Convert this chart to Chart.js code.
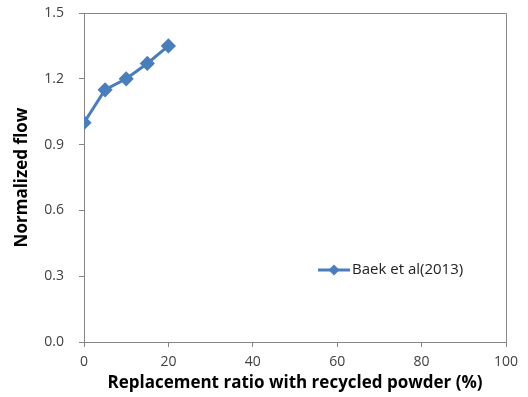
<!DOCTYPE html>
<html>
<head>
<meta charset="utf-8">
<script src="https://cdn.jsdelivr.net/npm/chart.js@4.4.1/dist/chart.umd.min.js"></script>
<style>
  html, body { margin: 0; padding: 0; background: #fff; }
  #wrap { width: 528px; height: 397px; }
</style>
</head>
<body>
<div id="wrap"><canvas id="flowChart" width="528" height="397"></canvas></div>
<script>
// Données : taux de remplacement (%) et fluidité normalisée
const replacementRatio = [0, 5, 10, 15, 20];
const normalizedFlow = [1.0, 1.15, 1.2, 1.27, 1.35];
const seriesLabel = 'Baek et al(2013)';
const xTicks = [0, 20, 40, 60, 80, 100];
const yTicks = [0.0, 0.3, 0.6, 0.9, 1.2, 1.5];

const lineColor = '#4A7EBB';
const axisColor = '#868686';
const fontFamily = "'Open Sans', 'Liberation Sans', sans-serif";

// Cadre autour de la zone de tracé + légende interne
const framePlugin = {
    id: 'frame',
    afterDraw(chart) {
        const { ctx, chartArea: a } = chart;
        ctx.save();
        ctx.strokeStyle = axisColor;
        ctx.lineWidth = 1;
        ctx.beginPath();
        ctx.moveTo(a.left, a.top + 0.5);
        ctx.lineTo(a.right + 0.5, a.top + 0.5);
        ctx.lineTo(a.right + 0.5, a.bottom);
        ctx.stroke();

        // légende
        const lx = a.left + 234, ly = a.top + 257;
        ctx.strokeStyle = lineColor;
        ctx.lineWidth = 3;
        ctx.beginPath();
        ctx.moveTo(lx, ly);
        ctx.lineTo(lx + 32, ly);
        ctx.stroke();
        ctx.fillStyle = lineColor;
        ctx.beginPath();
        ctx.moveTo(lx + 16, ly - 5.5);
        ctx.lineTo(lx + 21.5, ly);
        ctx.lineTo(lx + 16, ly + 5.5);
        ctx.lineTo(lx + 10.5, ly);
        ctx.closePath();
        ctx.fill();
        ctx.fillStyle = '#222';
        ctx.font = '15px ' + fontFamily;
        ctx.textAlign = 'left';
        ctx.textBaseline = 'middle';
        ctx.fillText(seriesLabel, lx + 34, ly);
        ctx.restore();
    }
};

new Chart(document.getElementById('flowChart').getContext('2d'), {
    type: 'line',
    data: {
        datasets: [{
            label: seriesLabel,
            data: replacementRatio.map((x, i) => ({ x: x, y: normalizedFlow[i] })),
            borderColor: lineColor,
            backgroundColor: lineColor,
            borderWidth: 3,
            pointStyle: 'rectRot',
            pointRadius: 5.5,
            pointHoverRadius: 5.5,
            tension: 0,
            cubicInterpolationMode: 'default'
        }]
    },
    options: {
        responsive: false,
        animation: false,
        layout: { autoPadding: false, padding: { top: 13, right: 22, left: 0, bottom: 0 } },
        plugins: {
            legend: { display: false },
            tooltip: { enabled: false }
        },
        scales: {
            x: {
                type: 'linear',
                min: 0,
                max: 100,
                afterBuildTicks: s => { s.ticks = xTicks.map(v => ({ value: v })); },
                afterFit: s => { s.height = 55; },
                grid: { drawOnChartArea: false, color: axisColor, tickLength: 5 },
                border: { color: axisColor, width: 1 },
                ticks: { color: '#404040', font: { family: fontFamily, size: 14 }, padding: 7, maxRotation: 0 },
                title: {
                    display: true,
                    text: 'Replacement ratio with recycled powder (%)',
                    color: '#000',
                    font: { family: fontFamily, size: 17, weight: 'bold' },
                    padding: { top: 0 }
                }
            },
            y: {
                min: 0,
                max: 1.5,
                afterBuildTicks: s => { s.ticks = yTicks.map(v => ({ value: v })); },
                afterFit: s => { s.width = 84; s.paddingTop = 0; },
                grid: { drawOnChartArea: false, color: axisColor, tickLength: 5 },
                border: { color: axisColor, width: 1 },
                ticks: {
                    color: '#404040',
                    font: { family: fontFamily, size: 14 },
                    padding: 15,
                    callback: v => v.toFixed(1)
                },
                title: {
                    display: true,
                    text: 'Normalized flow',
                    color: '#000',
                    font: { family: fontFamily, size: 17, weight: 'bold' },
                    padding: { top: 12, bottom: 4 }
                }
            }
        }
    },
    plugins: [framePlugin]
});
</script>
</body>
</html>
